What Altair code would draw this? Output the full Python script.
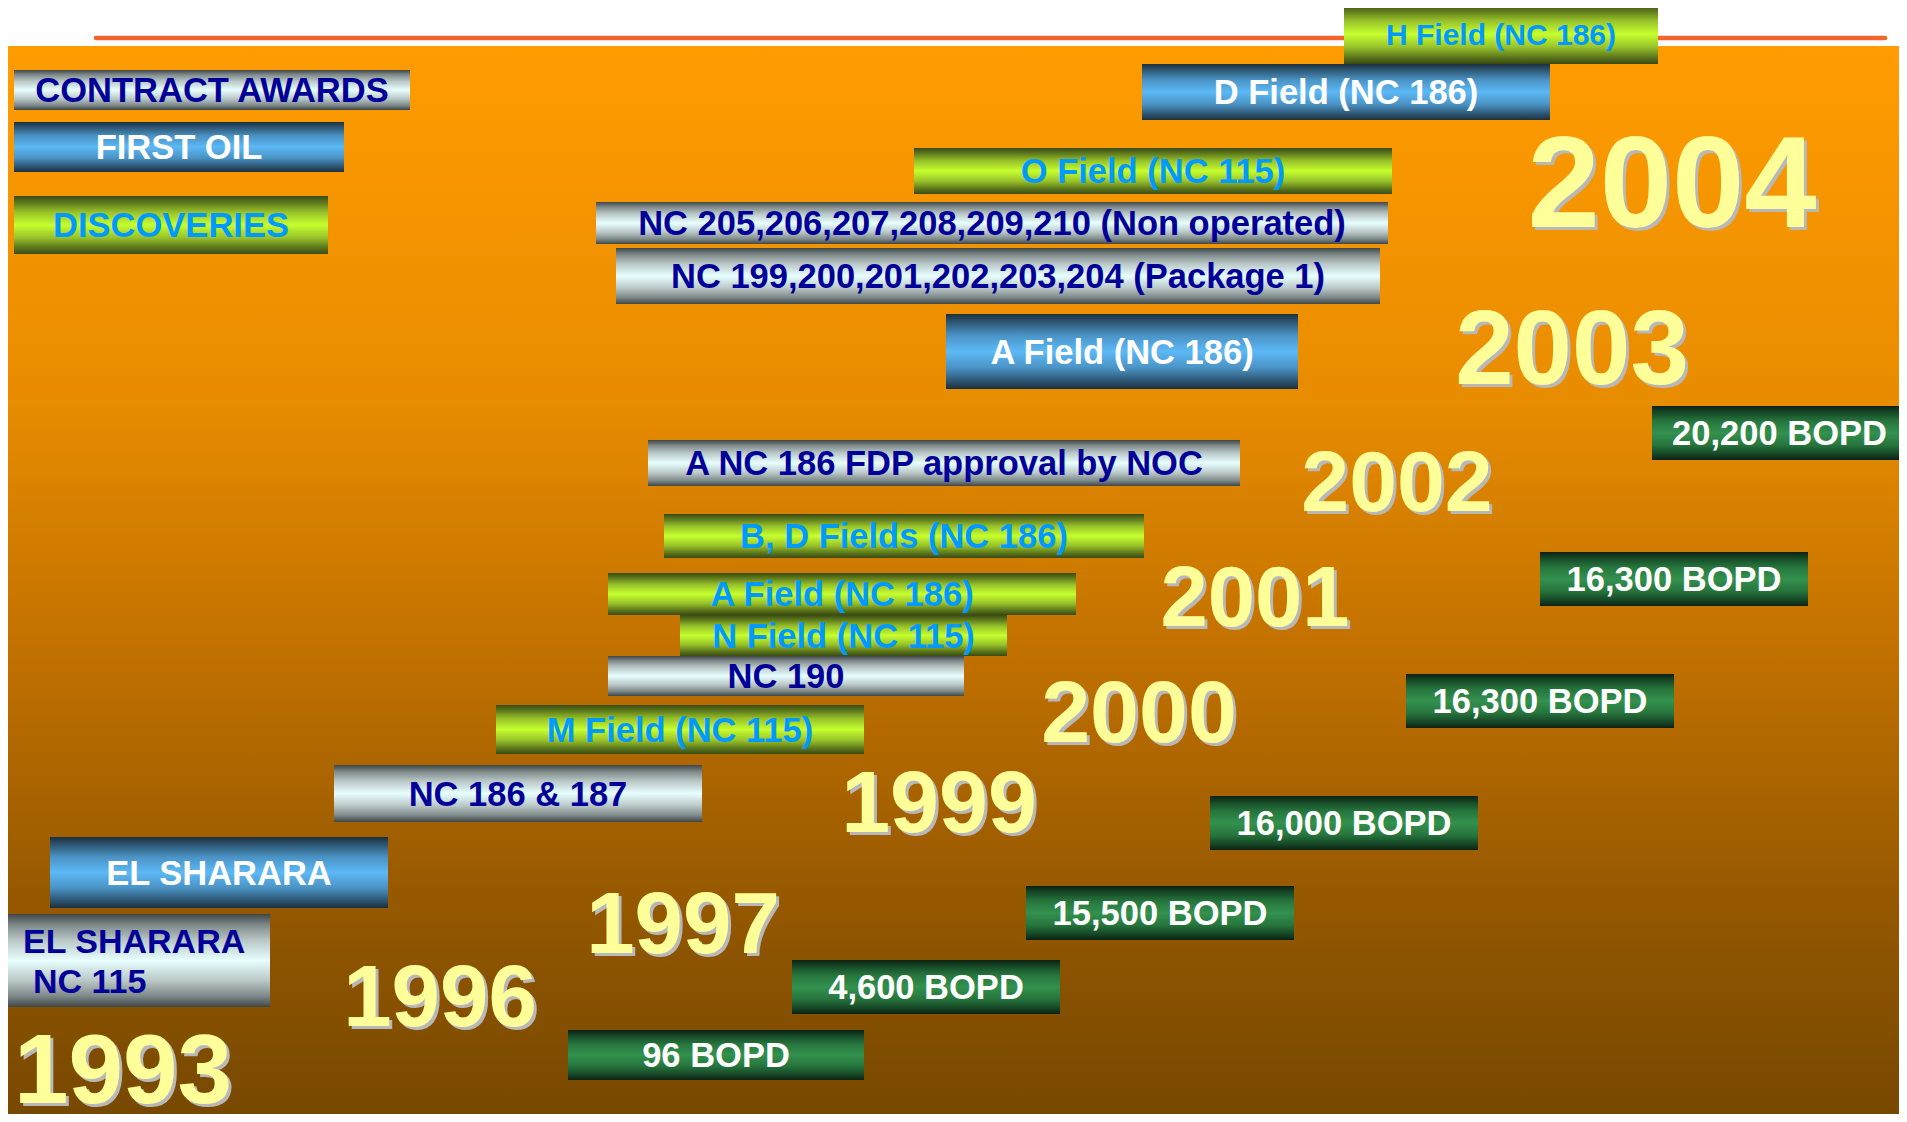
import altair as alt
import pandas as pd

# ---------------- data (slide coordinates, pixels) ----------------
box_labels = [
    "CONTRACT AWARDS", "FIRST OIL", "DISCOVERIES",
    "H Field (NC 186)", "D Field (NC 186)", "O Field (NC 115)",
    "NC 205,206,207,208,209,210 (Non operated)",
    "NC 199,200,201,202,203,204 (Package 1)",
    "A Field (NC 186)", "A NC 186 FDP approval by NOC",
    "B, D Fields (NC 186)", "A Field (NC 186)", "N Field (NC 115)",
    "NC 190", "M Field (NC 115)", "NC 186 & 187", "EL SHARARA", "",
    "20,200 BOPD", "16,300 BOPD", "16,300 BOPD", "16,000 BOPD",
    "15,500 BOPD", "4,600 BOPD", "96 BOPD",
]
box_kinds = [
    "award", "oil", "disc",
    "disc", "oil", "disc",
    "award",
    "award",
    "oil", "award",
    "disc", "disc", "disc",
    "award", "disc", "award", "oil", "award",
    "prod", "prod", "prod", "prod",
    "prod", "prod", "prod",
]
box_x0 = [14, 14, 14, 1344, 1142, 914, 596, 616, 946, 648, 664, 608, 680,
          608, 496, 334, 50, 0, 1652, 1540, 1406, 1210, 1026, 792, 568]
box_x1 = [410, 344, 328, 1658, 1550, 1392, 1388, 1380, 1298, 1240, 1144, 1076, 1007,
          964, 864, 702, 388, 270, 1907, 1808, 1674, 1478, 1294, 1060, 864]
box_y0 = [70, 122, 196, 4, 64, 148, 202, 248, 314, 440, 514, 573, 615,
          656, 705, 765, 837, 914, 406, 552, 674, 796, 886, 960, 1030]
box_y1 = [110, 172, 254, 64, 120, 194, 244, 304, 389, 486, 558, 615, 656,
          696, 754, 822, 908, 1007, 460, 606, 728, 850, 940, 1014, 1080]

# two-line label of the "EL SHARARA / NC 115" award box
sharara_text = ["EL SHARARA", "NC 115"]
sharara_x = [23, 33]
sharara_y = [953, 993]

year_text = ["2004", "2003", "2002", "2001", "2000", "1999", "1997", "1996", "1993"]
year_x = [1672, 1572, 1397, 1255, 1139, 939, 683, 440, 123]
year_y = [227, 384, 511, 626, 742, 832, 953, 1026, 1103]
year_size = [130, 105, 86, 85, 88, 88, 87, 87, 98]

# ---------------- tables ----------------
boxes = pd.DataFrame({"label": box_labels, "kind": box_kinds,
                      "x0": box_x0, "x1": box_x1, "y0": box_y0, "y1": box_y1})
sharara = pd.DataFrame({"t": sharara_text, "x": sharara_x, "y": sharara_y})
years = pd.DataFrame({"t": year_text, "x": year_x, "y": year_y, "fs": year_size})
frame = pd.DataFrame({"x0": [1], "x1": [1907], "y0": [46], "y1": [1122]})
topline = pd.DataFrame({"x0": [96], "x1": [1885], "y": [38]})

W, H = 1891, 1106
xs = alt.Scale(domain=[8, 8 + W], nice=False, zero=False)
ys = alt.Scale(domain=[8, 8 + H], nice=False, zero=False, reverse=True)


def grad(stops):
    return alt.LinearGradient(
        gradient="linear", x1=0, x2=0, y1=0, y2=1,
        stops=[alt.GradientStop(color=c, offset=o) for o, c in stops])


def band(edge, mid1, mid2, center):
    return grad([(0, edge), (0.12, mid1), (0.28, mid2), (0.5, center),
                 (0.72, mid2), (0.88, mid1), (1, edge)])


fills = {
    "award": band("#3f4646", "#7f8a8a", "#b9c6c6", "#e8ffff"),
    "oil": band("#1c2f3d", "#2f5a78", "#4a92c4", "#5cb9f6"),
    "disc": band("#394a12", "#5f7a1c", "#98c22a", "#c6ff2e"),
    "prod": band("#0b2112", "#174a27", "#26753d", "#33914e"),
}

bg = alt.Chart(frame).mark_rect(
    clip=True,
    fill=grad([(0, "#ff9c00"), (0.33, "#e88c00"), (0.57, "#c07000"),
               (0.83, "#8f5500"), (1, "#764800")]),
).encode(
    x=alt.X("x0:Q", scale=xs, axis=None), x2="x1:Q",
    y=alt.Y("y0:Q", scale=ys, axis=None), y2="y1:Q",
)

line = alt.Chart(topline).mark_rule(
    clip=True, color="#f4632b", strokeWidth=4.5, strokeCap="round"
).encode(
    x=alt.X("x0:Q", scale=xs, axis=None), x2="x1:Q",
    y=alt.Y("y:Q", scale=ys, axis=None),
)

rect_layers = []
for kind in ["award", "oil", "disc", "prod"]:
    rect_layers.append(
        alt.Chart(boxes).transform_filter(alt.datum.kind == kind).mark_rect(
            clip=True, fill=fills[kind]
        ).encode(
            x=alt.X("x0:Q", scale=xs, axis=None), x2="x1:Q",
            y=alt.Y("y0:Q", scale=ys, axis=None), y2="y1:Q",
        )
    )

text_color = alt.Color(
    "kind:N",
    scale=alt.Scale(domain=["award", "oil", "disc", "prod"],
                    range=["#000099", "#ffffff", "#0099ff", "#ffffff"]),
    legend=None,
)

labels = alt.Chart(boxes).transform_calculate(
    cx="(datum.x0 + datum.x1) / 2",
    cy="(datum.y0 + datum.y1) / 2",
    fs="datum.label == 'H Field (NC 186)' ? 30 : 34.5",
).mark_text(
    clip=True, font="Liberation Sans", fontWeight="bold",
    align="center", baseline="middle", dy=2,
).encode(
    x=alt.X("cx:Q", scale=xs, axis=None),
    y=alt.Y("cy:Q", scale=ys, axis=None),
    text="label:N",
    color=text_color,
    size=alt.Size("fs:Q", scale=None, legend=None),
)

sharara_lbl = alt.Chart(sharara).mark_text(
    clip=True, font="Liberation Sans", fontWeight="bold", fontSize=34,
    align="left", baseline="alphabetic", color="#000099",
).encode(
    x=alt.X("x:Q", scale=xs, axis=None),
    y=alt.Y("y:Q", scale=ys, axis=None),
    text="t:N",
)

year_shadow = alt.Chart(years).mark_text(
    clip=True, font="Liberation Sans", fontWeight="bold",
    align="center", baseline="alphabetic", color="#b8b8b8", dx=3, dy=3,
).encode(
    x=alt.X("x:Q", scale=xs, axis=None),
    y=alt.Y("y:Q", scale=ys, axis=None),
    text="t:N",
    size=alt.Size("fs:Q", scale=None, legend=None),
)

year_main = alt.Chart(years).mark_text(
    clip=True, font="Liberation Sans", fontWeight="bold",
    align="center", baseline="alphabetic", color="#ffff99",
).encode(
    x=alt.X("x:Q", scale=xs, axis=None),
    y=alt.Y("y:Q", scale=ys, axis=None),
    text="t:N",
    size=alt.Size("fs:Q", scale=None, legend=None),
)

chart = alt.layer(
    bg, line, *rect_layers, labels, sharara_lbl, year_shadow, year_main
).properties(
    width=W, height=H, padding=0,
    autosize=alt.AutoSizeParams(type="none"),
    background="#ffffff",
).configure_view(strokeWidth=0)

chart.save("out.html", embed_options={"renderer": "svg", "actions": False})
